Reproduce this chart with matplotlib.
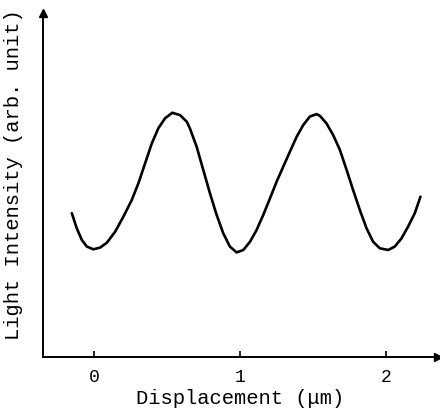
import matplotlib
matplotlib.use("Agg")
import matplotlib.pyplot as plt

# curve: displacement (um) vs light intensity (arb. unit)
displacement = [-0.155, -0.121, -0.086, -0.052, -0.007, 0.039, 0.085, 0.142, 0.199, 0.256,
                0.302, 0.348, 0.394, 0.439, 0.485, 0.535, 0.588, 0.634, 0.656, 0.702,
                0.747, 0.793, 0.839, 0.884, 0.930, 0.976, 1.022, 1.068, 1.113, 1.159,
                1.205, 1.251, 1.296, 1.342, 1.388, 1.433, 1.479, 1.525, 1.548, 1.593,
                1.639, 1.685, 1.731, 1.776, 1.822, 1.868, 1.913, 1.959, 2.016, 2.062,
                2.108, 2.153, 2.199, 2.238]
intensity = [0.418, 0.374, 0.340, 0.321, 0.313, 0.318, 0.332, 0.364, 0.408, 0.456,
             0.505, 0.563, 0.621, 0.665, 0.694, 0.710, 0.703, 0.684, 0.664, 0.611,
             0.544, 0.476, 0.413, 0.360, 0.321, 0.304, 0.311, 0.335, 0.369, 0.413,
             0.461, 0.510, 0.553, 0.597, 0.640, 0.674, 0.699, 0.706, 0.701, 0.679,
             0.645, 0.602, 0.544, 0.485, 0.427, 0.374, 0.335, 0.316, 0.311, 0.321,
             0.345, 0.379, 0.418, 0.466]
xticks = [0, 1, 2]
xlabel = "Displacement (μm)"
ylabel = "Light Intensity (arb. unit)"

font = "Liberation Mono"

fig = plt.figure(figsize=(4.4, 4.12), dpi=100)
ax = fig.add_axes([0.098, 0.1335, 0.897, 0.835])

ax.plot(displacement, intensity, color="black", lw=1.9, solid_joinstyle="round",
        solid_capstyle="round")

ax.set_xlim(-0.352, 2.357)
ax.set_ylim(0, 1)

for s in ["top", "right"]:
    ax.spines[s].set_visible(False)
for s in ["left", "bottom"]:
    ax.spines[s].set_linewidth(1.4)

# arrow heads on the axes
ax.plot(1, 0, ">", color="black", ms=6, transform=ax.transAxes, clip_on=False)
ax.plot(0, 1, "^", color="black", ms=6, transform=ax.transAxes, clip_on=False)

ax.set_xticks(xticks)
ax.set_xticklabels([str(t) for t in xticks], fontfamily=font, fontsize=13)
ax.tick_params(axis="x", direction="in", length=4, width=1.2, pad=9)
ax.set_yticks([])

ax.set_xlabel(xlabel, fontfamily=font, fontsize=14.8, labelpad=2)
fig.text(14 / 440, 1 - 175 / 412, ylabel, rotation=90, ha="center", va="center",
         fontfamily=font, fontsize=14.8)

fig.savefig("out.png", dpi=100)
